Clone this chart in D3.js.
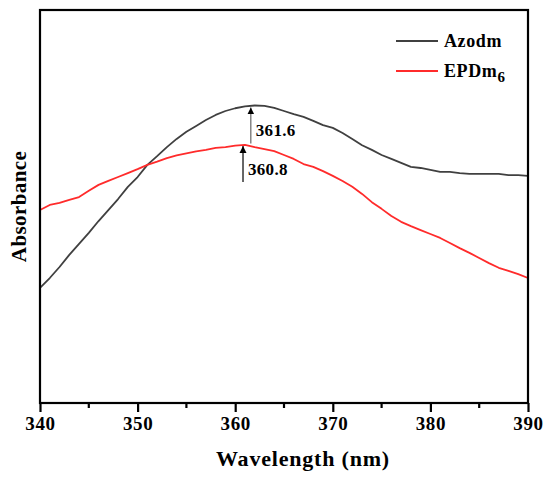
<!DOCTYPE html>
<html>
<head>
<meta charset="utf-8">
<script src="https://cdnjs.cloudflare.com/ajax/libs/d3/7.8.5/d3.min.js"></script>
<style>
    body { margin: 0; background: #fff; }
    svg text { font-family: "Liberation Serif", "DejaVu Serif", serif; font-weight: bold; }
</style>
</head>
<body>
<svg></svg>
<script>
// Wavelength (nm), 1 nm steps
const wavelengths = d3.range(340, 391)

// Azodm absorbance (arbitrary units)
const azodm = [
    0.293, 0.318, 0.346, 0.377, 0.405, 0.433, 0.463, 0.491, 0.519, 0.550,
    0.575, 0.606, 0.628, 0.651, 0.672, 0.690, 0.705, 0.720, 0.733, 0.743,
    0.750, 0.755, 0.757, 0.756, 0.751, 0.743, 0.735, 0.728, 0.718, 0.707,
    0.700, 0.687, 0.672, 0.656, 0.644, 0.631, 0.621, 0.611, 0.601, 0.598,
    0.593, 0.588, 0.588, 0.585, 0.583, 0.583, 0.583, 0.583, 0.580, 0.580,
    0.578
]

// EPDm6 absorbance (arbitrary units)
const epdm6 = [
    0.491, 0.504, 0.509, 0.517, 0.524, 0.540, 0.555, 0.565, 0.575, 0.585,
    0.595, 0.606, 0.614, 0.623, 0.630, 0.635, 0.640, 0.644, 0.649, 0.651,
    0.655, 0.657, 0.651, 0.646, 0.641, 0.631, 0.621, 0.608, 0.601, 0.590,
    0.578, 0.565, 0.550, 0.532, 0.511, 0.494, 0.476, 0.461, 0.450, 0.440,
    0.430, 0.420, 0.407, 0.394, 0.382, 0.369, 0.356, 0.344, 0.336, 0.328,
    0.318
]

// Peak annotations
const peakWl = [361.6, 360.8]
const peakAbs = [0.757, 0.659]
const peakLabels = ['361.6', '360.8']

const xTicks = [340, 350, 360, 370, 380, 390]
const xMinorTicks = [345, 355, 365, 375, 385]

const seriesNames = ['Azodm', 'EPDm']
const seriesColors = ['#404040', '#ff2b2b']

// Canvas setup
let width = 550
let height = 477
let svg = d3.select('svg')
    .attr('width', width)
    .attr('height', height)

let padLeft = 40, padRight = 528, padTop = 10, padBottom = 403

let xScale = d3.scaleLinear().domain([340, 390]).range([padLeft, padRight])
let yScale = d3.scaleLinear().domain([0, 1]).range([padBottom, padTop])

// Lines
let line = d3.line()
    .x((d) => xScale(d[0]))
    .y((d) => yScale(d[1]))

let allSeries = [azodm, epdm6]
allSeries.forEach((s, i) => {
    svg.append('path')
        .datum(wavelengths.map((w, j) => [w, s[j]]))
        .attr('fill', 'none')
        .attr('stroke', seriesColors[i])
        .attr('stroke-width', 1.8)
        .attr('stroke-linejoin', 'round')
        .attr('d', line)
})

// Frame
svg.append('rect')
    .attr('x', padLeft)
    .attr('y', padTop)
    .attr('width', padRight - padLeft)
    .attr('height', padBottom - padTop)
    .attr('fill', 'none')
    .attr('stroke', '#000')
    .attr('stroke-width', 2.2)

// X axis
let xAxis = d3.axisBottom(xScale)
    .tickValues(xTicks)
    .tickSize(9)
    .tickPadding(5)
    .tickFormat(d3.format('d'))
let gx = svg.append('g')
    .attr('transform', 'translate(0,' + padBottom + ')')
    .call(xAxis)
gx.select('.domain').remove()
gx.selectAll('line').attr('stroke', '#000').attr('stroke-width', 2.2)
gx.selectAll('text')
    .attr('fill', '#000')
    .style('font-size', '19px')
    .style('letter-spacing', '0.6px')
    .style('font-family', '"Liberation Serif", serif')

svg.append('g')
    .selectAll('line')
    .data(xMinorTicks)
    .enter()
    .append('line')
    .attr('x1', (d) => xScale(d))
    .attr('x2', (d) => xScale(d))
    .attr('y1', padBottom)
    .attr('y2', padBottom + 5)
    .attr('stroke', '#000')
    .attr('stroke-width', 2.2)

// Axis titles
svg.append('text')
    .attr('x', (padLeft + padRight) / 2 + 19)
    .attr('y', 466)
    .attr('text-anchor', 'middle')
    .style('font-size', '22px')
    .style('letter-spacing', '0.8px')
    .text('Wavelength (nm)')

svg.append('text')
    .attr('transform', 'translate(26,' + ((padTop + padBottom) / 2) + ') rotate(-90)')
    .attr('text-anchor', 'middle')
    .style('font-size', '21px')
    .style('letter-spacing', '0.4px')
    .text('Absorbance')

// Peak arrows
let defs = svg.append('defs')
defs.append('marker')
    .attr('id', 'head')
    .attr('viewBox', '0 0 10 10')
    .attr('refX', 10)
    .attr('refY', 5)
    .attr('markerWidth', 7)
    .attr('markerHeight', 9)
    .attr('markerUnits', 'userSpaceOnUse')
    .attr('orient', 'auto')
    .append('path')
    .attr('d', 'M0,0 L10,5 L0,10 Z')
    .attr('fill', '#000')

let arrowColors = ['#666', '#000']
peakWl.forEach((w, i) => {
    let px = xScale(w)
    let py = yScale(peakAbs[i]) + 2
    svg.append('line')
        .attr('x1', px)
        .attr('x2', px)
        .attr('y1', py + 36)
        .attr('y2', py)
        .attr('stroke', arrowColors[i])
        .attr('stroke-width', 1.2)
        .attr('marker-end', 'url(#head)')
    svg.append('text')
        .attr('x', px + 5)
        .attr('y', py + 29)
        .style('font-size', '17px')
        .style('letter-spacing', '0.3px')
        .text(peakLabels[i])
})

// Legend
let legend = svg.append('g')
seriesNames.forEach((name, i) => {
    let ly = 41 + i * 30
    legend.append('line')
        .attr('x1', 396)
        .attr('x2', 438)
        .attr('y1', ly)
        .attr('y2', ly)
        .attr('stroke', seriesColors[i])
        .attr('stroke-width', 1.8)
    let t = legend.append('text')
        .attr('x', 444)
        .attr('y', ly + 6)
        .style('font-size', '18px')
        .style('letter-spacing', '0.6px')
        .text(name)
    if (i === 1) {
        t.append('tspan')
            .attr('dy', 5)
            .style('font-size', '15px')
            .text('6')
    }
})
</script>
</body>
</html>
